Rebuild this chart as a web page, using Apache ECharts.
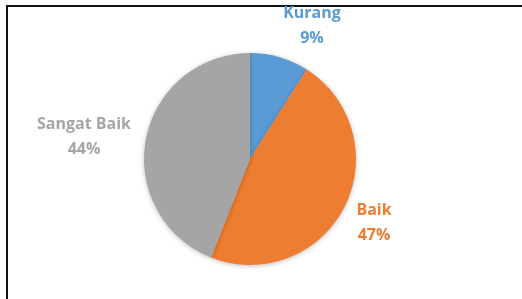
<!DOCTYPE html>
<html>
<head>
<meta charset="utf-8">
<script src="https://cdn.jsdelivr.net/npm/echarts@6/dist/echarts.min.js"></script>
<style>
  html, body { margin: 0; padding: 0; background: #fff; }
  #wrap { position: relative; width: 522px; height: 299px; overflow: hidden; }
  #frame { position: absolute; left: 6px; top: 5px; right: -4px; bottom: -4px;
           border-top: 2px solid #111; border-left: 2px solid #111; }
  #chart { position: absolute; left: 0; top: 0; width: 522px; height: 299px; }
</style>
</head>
<body>
<div id="wrap">
  <div id="frame"></div>
  <div id="chart"></div>
</div>
<script>
// kategori penilaian
const categories = ['Kurang', 'Baik', 'Sangat Baik']
// persentase tiap kategori
const values = [9, 47, 44]
const colors = ['#5b9bd5', '#ed7d31', '#a5a5a5']
// letak label (Excel best fit)
const labelPos = [[312, 26], [374, 223], [84, 137]]

const chart = echarts.init(document.getElementById('chart'))

const option = {
  animation: false,
  series: [{
    type: 'pie',
    center: [250, 159],
    radius: 106,
    startAngle: 90,
    clockwise: true,
    data: categories.map((name, i) => ({
      name: name,
      value: values[i],
      itemStyle: { color: colors[i] },
      label: { color: colors[i] }
    })),
    itemStyle: {
      borderWidth: 0,
      shadowBlur: 5,
      shadowColor: 'rgba(0,0,0,0.25)',
      shadowOffsetY: 1
    },
    label: {
      show: true,
      position: 'outside',
      formatter: '{b}\n{d}%',
      fontFamily: 'Open Sans',
      fontWeight: 'bold',
      fontSize: 16,
      lineHeight: 25,
      align: 'center',
      overflow: 'none',
      width: 200
    },
    labelLine: { show: false },
    labelLayout: (p) => ({
      x: labelPos[p.dataIndex][0],
      y: labelPos[p.dataIndex][1],
      align: 'center',
      verticalAlign: 'middle'
    })
  }]
}

chart.setOption(option)
</script>
</body>
</html>
